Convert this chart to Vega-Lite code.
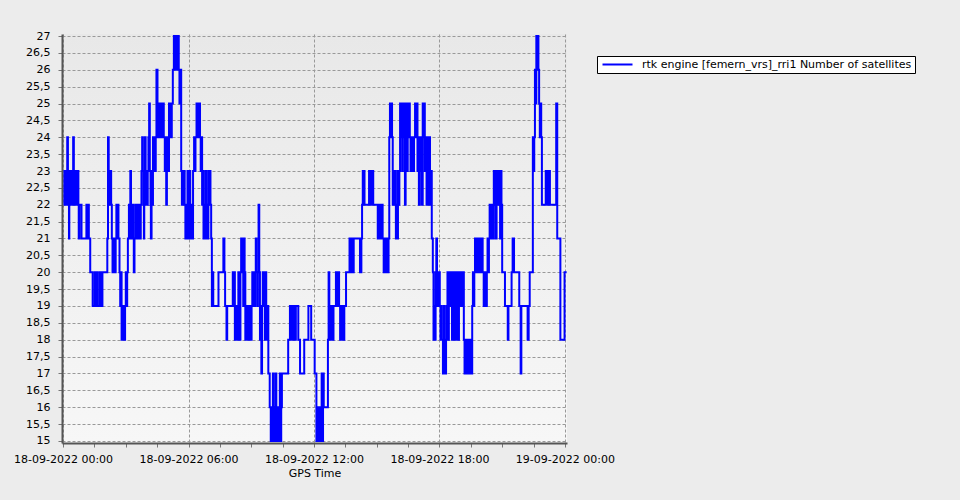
{
"$schema": "https://vega.github.io/schema/vega-lite/v6.json",
"autosize": {"type": "none"},
"padding": {"left": 62, "top": 34, "right": 393, "bottom": 57},
"width": 505,
"height": 409,
"background": "#ececec",
"config": {
  "font": "DejaVu Sans",
  "view": {"stroke": null, "fill": {"gradient": "linear", "x1": 0, "y1": 0, "x2": 0, "y2": 1, "stops": [{"offset": 0, "color": "#e8e8e8"}, {"offset": 1, "color": "#f7f7f7"}]}}
},
"data": {"values": [
{"t":"2022-09-18T00:02","n":22},{"t":"2022-09-18T00:04","n":23},{"t":"2022-09-18T00:06","n":22},{"t":"2022-09-18T00:08","n":23},{"t":"2022-09-18T00:10","n":22},{"t":"2022-09-18T00:11","n":23},{"t":"2022-09-18T00:12","n":24},{"t":"2022-09-18T00:14","n":23},{"t":"2022-09-18T00:15","n":22},{"t":"2022-09-18T00:17","n":21},{"t":"2022-09-18T00:18","n":22},{"t":"2022-09-18T00:20","n":23},{"t":"2022-09-18T00:22","n":22},{"t":"2022-09-18T00:24","n":23},{"t":"2022-09-18T00:26","n":22},{"t":"2022-09-18T00:28","n":23},{"t":"2022-09-18T00:29","n":24},{"t":"2022-09-18T00:31","n":23},{"t":"2022-09-18T00:33","n":22},{"t":"2022-09-18T00:34","n":23},{"t":"2022-09-18T00:38","n":22},{"t":"2022-09-18T00:39","n":23},{"t":"2022-09-18T00:44","n":22},{"t":"2022-09-18T00:45","n":21},{"t":"2022-09-18T00:47","n":22},{"t":"2022-09-18T00:53","n":21},{"t":"2022-09-18T01:07","n":22},{"t":"2022-09-18T01:10","n":21},{"t":"2022-09-18T01:12","n":22},{"t":"2022-09-18T01:14","n":21},{"t":"2022-09-18T01:18","n":20},{"t":"2022-09-18T01:25","n":19},{"t":"2022-09-18T01:31","n":20},{"t":"2022-09-18T01:33","n":19},{"t":"2022-09-18T01:38","n":20},{"t":"2022-09-18T01:40","n":19},{"t":"2022-09-18T01:46","n":20},{"t":"2022-09-18T01:48","n":19},{"t":"2022-09-18T01:53","n":20},{"t":"2022-09-18T02:07","n":21},{"t":"2022-09-18T02:09","n":24},{"t":"2022-09-18T02:11","n":23},{"t":"2022-09-18T02:13","n":22},{"t":"2022-09-18T02:16","n":23},{"t":"2022-09-18T02:18","n":22},{"t":"2022-09-18T02:20","n":21},{"t":"2022-09-18T02:22","n":20},{"t":"2022-09-18T02:25","n":21},{"t":"2022-09-18T02:28","n":20},{"t":"2022-09-18T02:31","n":21},{"t":"2022-09-18T02:33","n":22},{"t":"2022-09-18T02:35","n":21},{"t":"2022-09-18T02:37","n":22},{"t":"2022-09-18T02:39","n":21},{"t":"2022-09-18T02:42","n":20},{"t":"2022-09-18T02:44","n":19},{"t":"2022-09-18T02:46","n":20},{"t":"2022-09-18T02:48","n":18},{"t":"2022-09-18T02:50","n":19},{"t":"2022-09-18T02:52","n":18},{"t":"2022-09-18T02:54","n":19},{"t":"2022-09-18T02:56","n":18},{"t":"2022-09-18T02:58","n":19},{"t":"2022-09-18T03:00","n":20},{"t":"2022-09-18T03:02","n":19},{"t":"2022-09-18T03:04","n":20},{"t":"2022-09-18T03:06","n":21},{"t":"2022-09-18T03:09","n":22},{"t":"2022-09-18T03:11","n":21},{"t":"2022-09-18T03:13","n":23},{"t":"2022-09-18T03:15","n":22},{"t":"2022-09-18T03:17","n":21},{"t":"2022-09-18T03:19","n":22},{"t":"2022-09-18T03:21","n":21},{"t":"2022-09-18T03:23","n":20},{"t":"2022-09-18T03:25","n":21},{"t":"2022-09-18T03:27","n":22},{"t":"2022-09-18T03:29","n":21},{"t":"2022-09-18T03:31","n":22},{"t":"2022-09-18T03:33","n":21},{"t":"2022-09-18T03:35","n":22},{"t":"2022-09-18T03:37","n":21},{"t":"2022-09-18T03:39","n":22},{"t":"2022-09-18T03:41","n":21},{"t":"2022-09-18T03:43","n":22},{"t":"2022-09-18T03:45","n":23},{"t":"2022-09-18T03:47","n":24},{"t":"2022-09-18T03:49","n":23},{"t":"2022-09-18T03:51","n":22},{"t":"2022-09-18T03:52","n":21},{"t":"2022-09-18T03:53","n":23},{"t":"2022-09-18T03:55","n":24},{"t":"2022-09-18T03:57","n":22},{"t":"2022-09-18T03:59","n":23},{"t":"2022-09-18T04:01","n":22},{"t":"2022-09-18T04:03","n":23},{"t":"2022-09-18T04:05","n":24},{"t":"2022-09-18T04:07","n":25},{"t":"2022-09-18T04:09","n":23},{"t":"2022-09-18T04:11","n":22},{"t":"2022-09-18T04:12","n":21},{"t":"2022-09-18T04:14","n":23},{"t":"2022-09-18T04:16","n":22},{"t":"2022-09-18T04:18","n":24},{"t":"2022-09-18T04:20","n":23},{"t":"2022-09-18T04:22","n":24},{"t":"2022-09-18T04:24","n":23},{"t":"2022-09-18T04:26","n":24},{"t":"2022-09-18T04:28","n":26},{"t":"2022-09-18T04:31","n":25},{"t":"2022-09-18T04:33","n":24},{"t":"2022-09-18T04:35","n":25},{"t":"2022-09-18T04:37","n":24},{"t":"2022-09-18T04:39","n":25},{"t":"2022-09-18T04:41","n":24},{"t":"2022-09-18T04:43","n":25},{"t":"2022-09-18T04:45","n":24},{"t":"2022-09-18T04:47","n":25},{"t":"2022-09-18T04:49","n":24},{"t":"2022-09-18T04:52","n":23},{"t":"2022-09-18T04:54","n":24},{"t":"2022-09-18T04:56","n":22},{"t":"2022-09-18T04:58","n":23},{"t":"2022-09-18T05:00","n":24},{"t":"2022-09-18T05:02","n":23},{"t":"2022-09-18T05:04","n":25},{"t":"2022-09-18T05:06","n":24},{"t":"2022-09-18T05:08","n":25},{"t":"2022-09-18T05:10","n":24},{"t":"2022-09-18T05:12","n":25},{"t":"2022-09-18T05:15","n":26},{"t":"2022-09-18T05:18","n":27},{"t":"2022-09-18T05:20","n":26},{"t":"2022-09-18T05:22","n":27},{"t":"2022-09-18T05:24","n":26},{"t":"2022-09-18T05:26","n":27},{"t":"2022-09-18T05:28","n":26},{"t":"2022-09-18T05:30","n":27},{"t":"2022-09-18T05:32","n":26},{"t":"2022-09-18T05:34","n":25},{"t":"2022-09-18T05:36","n":26},{"t":"2022-09-18T05:39","n":23},{"t":"2022-09-18T05:41","n":22},{"t":"2022-09-18T05:43","n":23},{"t":"2022-09-18T05:45","n":22},{"t":"2022-09-18T05:47","n":23},{"t":"2022-09-18T05:49","n":22},{"t":"2022-09-18T05:51","n":21},{"t":"2022-09-18T05:53","n":22},{"t":"2022-09-18T05:55","n":21},{"t":"2022-09-18T05:57","n":23},{"t":"2022-09-18T05:59","n":22},{"t":"2022-09-18T06:01","n":21},{"t":"2022-09-18T06:03","n":23},{"t":"2022-09-18T06:05","n":22},{"t":"2022-09-18T06:07","n":21},{"t":"2022-09-18T06:09","n":22},{"t":"2022-09-18T06:11","n":21},{"t":"2022-09-18T06:13","n":23},{"t":"2022-09-18T06:16","n":24},{"t":"2022-09-18T06:18","n":23},{"t":"2022-09-18T06:20","n":24},{"t":"2022-09-18T06:23","n":25},{"t":"2022-09-18T06:25","n":24},{"t":"2022-09-18T06:27","n":25},{"t":"2022-09-18T06:29","n":24},{"t":"2022-09-18T06:31","n":25},{"t":"2022-09-18T06:33","n":24},{"t":"2022-09-18T06:35","n":23},{"t":"2022-09-18T06:37","n":24},{"t":"2022-09-18T06:39","n":22},{"t":"2022-09-18T06:41","n":23},{"t":"2022-09-18T06:43","n":21},{"t":"2022-09-18T06:45","n":22},{"t":"2022-09-18T06:47","n":21},{"t":"2022-09-18T06:49","n":23},{"t":"2022-09-18T06:51","n":21},{"t":"2022-09-18T06:53","n":22},{"t":"2022-09-18T06:55","n":21},{"t":"2022-09-18T06:57","n":23},{"t":"2022-09-18T06:59","n":22},{"t":"2022-09-18T07:01","n":23},{"t":"2022-09-18T07:03","n":22},{"t":"2022-09-18T07:05","n":21},{"t":"2022-09-18T07:07","n":19},{"t":"2022-09-18T07:09","n":20},{"t":"2022-09-18T07:11","n":19},{"t":"2022-09-18T07:26","n":20},{"t":"2022-09-18T07:40","n":21},{"t":"2022-09-18T07:43","n":20},{"t":"2022-09-18T07:45","n":19},{"t":"2022-09-18T07:49","n":18},{"t":"2022-09-18T07:51","n":19},{"t":"2022-09-18T08:07","n":20},{"t":"2022-09-18T08:09","n":19},{"t":"2022-09-18T08:11","n":20},{"t":"2022-09-18T08:13","n":18},{"t":"2022-09-18T08:15","n":19},{"t":"2022-09-18T08:17","n":18},{"t":"2022-09-18T08:19","n":19},{"t":"2022-09-18T08:21","n":18},{"t":"2022-09-18T08:23","n":20},{"t":"2022-09-18T08:25","n":19},{"t":"2022-09-18T08:27","n":18},{"t":"2022-09-18T08:29","n":20},{"t":"2022-09-18T08:31","n":21},{"t":"2022-09-18T08:33","n":20},{"t":"2022-09-18T08:35","n":21},{"t":"2022-09-18T08:37","n":19},{"t":"2022-09-18T08:39","n":21},{"t":"2022-09-18T08:41","n":20},{"t":"2022-09-18T08:43","n":18},{"t":"2022-09-18T08:45","n":19},{"t":"2022-09-18T08:47","n":18},{"t":"2022-09-18T08:49","n":19},{"t":"2022-09-18T08:51","n":18},{"t":"2022-09-18T08:53","n":19},{"t":"2022-09-18T08:55","n":18},{"t":"2022-09-18T08:57","n":19},{"t":"2022-09-18T08:59","n":18},{"t":"2022-09-18T09:01","n":19},{"t":"2022-09-18T09:03","n":20},{"t":"2022-09-18T09:05","n":19},{"t":"2022-09-18T09:07","n":20},{"t":"2022-09-18T09:09","n":19},{"t":"2022-09-18T09:11","n":20},{"t":"2022-09-18T09:13","n":21},{"t":"2022-09-18T09:15","n":20},{"t":"2022-09-18T09:17","n":19},{"t":"2022-09-18T09:19","n":20},{"t":"2022-09-18T09:21","n":22},{"t":"2022-09-18T09:23","n":20},{"t":"2022-09-18T09:25","n":18},{"t":"2022-09-18T09:27","n":19},{"t":"2022-09-18T09:29","n":17},{"t":"2022-09-18T09:31","n":19},{"t":"2022-09-18T09:33","n":20},{"t":"2022-09-18T09:35","n":19},{"t":"2022-09-18T09:37","n":20},{"t":"2022-09-18T09:39","n":18},{"t":"2022-09-18T09:41","n":20},{"t":"2022-09-18T09:43","n":19},{"t":"2022-09-18T09:45","n":18},{"t":"2022-09-18T09:47","n":19},{"t":"2022-09-18T09:49","n":17},{"t":"2022-09-18T09:53","n":16},{"t":"2022-09-18T09:56","n":15},{"t":"2022-09-18T09:58","n":16},{"t":"2022-09-18T10:00","n":15},{"t":"2022-09-18T10:02","n":17},{"t":"2022-09-18T10:04","n":15},{"t":"2022-09-18T10:06","n":16},{"t":"2022-09-18T10:08","n":15},{"t":"2022-09-18T10:10","n":17},{"t":"2022-09-18T10:12","n":15},{"t":"2022-09-18T10:14","n":16},{"t":"2022-09-18T10:16","n":15},{"t":"2022-09-18T10:18","n":16},{"t":"2022-09-18T10:20","n":15},{"t":"2022-09-18T10:22","n":17},{"t":"2022-09-18T10:24","n":15},{"t":"2022-09-18T10:26","n":16},{"t":"2022-09-18T10:28","n":17},{"t":"2022-09-18T10:46","n":18},{"t":"2022-09-18T10:51","n":19},{"t":"2022-09-18T10:54","n":18},{"t":"2022-09-18T10:56","n":19},{"t":"2022-09-18T10:59","n":18},{"t":"2022-09-18T11:01","n":19},{"t":"2022-09-18T11:05","n":18},{"t":"2022-09-18T11:08","n":19},{"t":"2022-09-18T11:15","n":18},{"t":"2022-09-18T11:20","n":17},{"t":"2022-09-18T11:32","n":18},{"t":"2022-09-18T11:44","n":19},{"t":"2022-09-18T11:52","n":18},{"t":"2022-09-18T12:02","n":17},{"t":"2022-09-18T12:07","n":15},{"t":"2022-09-18T12:09","n":16},{"t":"2022-09-18T12:11","n":15},{"t":"2022-09-18T12:13","n":16},{"t":"2022-09-18T12:15","n":15},{"t":"2022-09-18T12:17","n":16},{"t":"2022-09-18T12:19","n":15},{"t":"2022-09-18T12:22","n":17},{"t":"2022-09-18T12:24","n":15},{"t":"2022-09-18T12:26","n":17},{"t":"2022-09-18T12:28","n":16},{"t":"2022-09-18T12:40","n":18},{"t":"2022-09-18T12:42","n":20},{"t":"2022-09-18T12:44","n":18},{"t":"2022-09-18T12:46","n":19},{"t":"2022-09-18T12:48","n":18},{"t":"2022-09-18T12:50","n":19},{"t":"2022-09-18T12:53","n":18},{"t":"2022-09-18T12:56","n":19},{"t":"2022-09-18T13:03","n":20},{"t":"2022-09-18T13:06","n":19},{"t":"2022-09-18T13:09","n":20},{"t":"2022-09-18T13:12","n":19},{"t":"2022-09-18T13:15","n":18},{"t":"2022-09-18T13:17","n":19},{"t":"2022-09-18T13:19","n":18},{"t":"2022-09-18T13:21","n":19},{"t":"2022-09-18T13:23","n":18},{"t":"2022-09-18T13:27","n":19},{"t":"2022-09-18T13:32","n":20},{"t":"2022-09-18T13:42","n":21},{"t":"2022-09-18T13:44","n":20},{"t":"2022-09-18T13:46","n":21},{"t":"2022-09-18T13:48","n":20},{"t":"2022-09-18T13:50","n":21},{"t":"2022-09-18T13:52","n":20},{"t":"2022-09-18T13:54","n":21},{"t":"2022-09-18T14:12","n":20},{"t":"2022-09-18T14:16","n":21},{"t":"2022-09-18T14:18","n":22},{"t":"2022-09-18T14:20","n":23},{"t":"2022-09-18T14:25","n":22},{"t":"2022-09-18T14:38","n":23},{"t":"2022-09-18T14:41","n":22},{"t":"2022-09-18T14:43","n":23},{"t":"2022-09-18T14:46","n":22},{"t":"2022-09-18T14:48","n":23},{"t":"2022-09-18T14:50","n":22},{"t":"2022-09-18T15:03","n":21},{"t":"2022-09-18T15:06","n":22},{"t":"2022-09-18T15:08","n":21},{"t":"2022-09-18T15:10","n":22},{"t":"2022-09-18T15:12","n":21},{"t":"2022-09-18T15:14","n":22},{"t":"2022-09-18T15:17","n":21},{"t":"2022-09-18T15:20","n":20},{"t":"2022-09-18T15:23","n":21},{"t":"2022-09-18T15:26","n":20},{"t":"2022-09-18T15:30","n":21},{"t":"2022-09-18T15:32","n":20},{"t":"2022-09-18T15:34","n":21},{"t":"2022-09-18T15:36","n":24},{"t":"2022-09-18T15:38","n":25},{"t":"2022-09-18T15:40","n":24},{"t":"2022-09-18T15:42","n":25},{"t":"2022-09-18T15:44","n":24},{"t":"2022-09-18T15:46","n":22},{"t":"2022-09-18T15:48","n":23},{"t":"2022-09-18T15:50","n":22},{"t":"2022-09-18T15:52","n":23},{"t":"2022-09-18T15:55","n":21},{"t":"2022-09-18T15:57","n":22},{"t":"2022-09-18T15:59","n":21},{"t":"2022-09-18T16:01","n":23},{"t":"2022-09-18T16:03","n":22},{"t":"2022-09-18T16:05","n":23},{"t":"2022-09-18T16:07","n":25},{"t":"2022-09-18T16:09","n":24},{"t":"2022-09-18T16:11","n":25},{"t":"2022-09-18T16:13","n":23},{"t":"2022-09-18T16:15","n":25},{"t":"2022-09-18T16:17","n":24},{"t":"2022-09-18T16:19","n":25},{"t":"2022-09-18T16:21","n":22},{"t":"2022-09-18T16:23","n":24},{"t":"2022-09-18T16:25","n":25},{"t":"2022-09-18T16:27","n":23},{"t":"2022-09-18T16:29","n":25},{"t":"2022-09-18T16:31","n":24},{"t":"2022-09-18T16:33","n":25},{"t":"2022-09-18T16:35","n":24},{"t":"2022-09-18T16:37","n":23},{"t":"2022-09-18T16:39","n":24},{"t":"2022-09-18T16:41","n":23},{"t":"2022-09-18T16:43","n":24},{"t":"2022-09-18T16:45","n":23},{"t":"2022-09-18T16:47","n":24},{"t":"2022-09-18T16:50","n":25},{"t":"2022-09-18T16:53","n":24},{"t":"2022-09-18T16:55","n":25},{"t":"2022-09-18T16:57","n":23},{"t":"2022-09-18T16:59","n":24},{"t":"2022-09-18T17:01","n":22},{"t":"2022-09-18T17:03","n":24},{"t":"2022-09-18T17:05","n":23},{"t":"2022-09-18T17:07","n":24},{"t":"2022-09-18T17:09","n":22},{"t":"2022-09-18T17:12","n":25},{"t":"2022-09-18T17:14","n":24},{"t":"2022-09-18T17:16","n":25},{"t":"2022-09-18T17:18","n":23},{"t":"2022-09-18T17:21","n":24},{"t":"2022-09-18T17:23","n":22},{"t":"2022-09-18T17:25","n":24},{"t":"2022-09-18T17:27","n":23},{"t":"2022-09-18T17:29","n":22},{"t":"2022-09-18T17:31","n":24},{"t":"2022-09-18T17:33","n":22},{"t":"2022-09-18T17:35","n":23},{"t":"2022-09-18T17:38","n":21},{"t":"2022-09-18T17:41","n":20},{"t":"2022-09-18T17:43","n":18},{"t":"2022-09-18T17:45","n":19},{"t":"2022-09-18T17:47","n":18},{"t":"2022-09-18T17:49","n":20},{"t":"2022-09-18T17:51","n":21},{"t":"2022-09-18T17:53","n":19},{"t":"2022-09-18T17:55","n":20},{"t":"2022-09-18T17:57","n":19},{"t":"2022-09-18T17:59","n":20},{"t":"2022-09-18T18:01","n":19},{"t":"2022-09-18T18:03","n":18},{"t":"2022-09-18T18:05","n":19},{"t":"2022-09-18T18:07","n":18},{"t":"2022-09-18T18:10","n":17},{"t":"2022-09-18T18:13","n":19},{"t":"2022-09-18T18:15","n":18},{"t":"2022-09-18T18:17","n":17},{"t":"2022-09-18T18:19","n":18},{"t":"2022-09-18T18:21","n":19},{"t":"2022-09-18T18:23","n":20},{"t":"2022-09-18T18:25","n":18},{"t":"2022-09-18T18:27","n":20},{"t":"2022-09-18T18:29","n":19},{"t":"2022-09-18T18:31","n":20},{"t":"2022-09-18T18:33","n":19},{"t":"2022-09-18T18:36","n":18},{"t":"2022-09-18T18:38","n":20},{"t":"2022-09-18T18:40","n":19},{"t":"2022-09-18T18:42","n":18},{"t":"2022-09-18T18:44","n":20},{"t":"2022-09-18T18:46","n":19},{"t":"2022-09-18T18:48","n":18},{"t":"2022-09-18T18:50","n":20},{"t":"2022-09-18T18:52","n":19},{"t":"2022-09-18T18:54","n":18},{"t":"2022-09-18T18:56","n":20},{"t":"2022-09-18T18:58","n":19},{"t":"2022-09-18T19:00","n":20},{"t":"2022-09-18T19:02","n":19},{"t":"2022-09-18T19:04","n":20},{"t":"2022-09-18T19:06","n":19},{"t":"2022-09-18T19:08","n":20},{"t":"2022-09-18T19:10","n":18},{"t":"2022-09-18T19:12","n":17},{"t":"2022-09-18T19:14","n":18},{"t":"2022-09-18T19:16","n":17},{"t":"2022-09-18T19:18","n":18},{"t":"2022-09-18T19:20","n":17},{"t":"2022-09-18T19:22","n":18},{"t":"2022-09-18T19:24","n":17},{"t":"2022-09-18T19:26","n":18},{"t":"2022-09-18T19:28","n":17},{"t":"2022-09-18T19:30","n":18},{"t":"2022-09-18T19:32","n":17},{"t":"2022-09-18T19:34","n":19},{"t":"2022-09-18T19:36","n":20},{"t":"2022-09-18T19:38","n":19},{"t":"2022-09-18T19:40","n":20},{"t":"2022-09-18T19:42","n":21},{"t":"2022-09-18T19:44","n":20},{"t":"2022-09-18T19:46","n":21},{"t":"2022-09-18T19:48","n":20},{"t":"2022-09-18T19:50","n":21},{"t":"2022-09-18T19:52","n":20},{"t":"2022-09-18T19:54","n":21},{"t":"2022-09-18T19:56","n":20},{"t":"2022-09-18T19:58","n":21},{"t":"2022-09-18T20:00","n":20},{"t":"2022-09-18T20:02","n":21},{"t":"2022-09-18T20:04","n":20},{"t":"2022-09-18T20:07","n":19},{"t":"2022-09-18T20:10","n":20},{"t":"2022-09-18T20:13","n":19},{"t":"2022-09-18T20:16","n":20},{"t":"2022-09-18T20:18","n":21},{"t":"2022-09-18T20:20","n":20},{"t":"2022-09-18T20:22","n":21},{"t":"2022-09-18T20:24","n":22},{"t":"2022-09-18T20:26","n":21},{"t":"2022-09-18T20:28","n":22},{"t":"2022-09-18T20:30","n":21},{"t":"2022-09-18T20:32","n":22},{"t":"2022-09-18T20:34","n":21},{"t":"2022-09-18T20:36","n":23},{"t":"2022-09-18T20:38","n":22},{"t":"2022-09-18T20:40","n":23},{"t":"2022-09-18T20:42","n":21},{"t":"2022-09-18T20:44","n":23},{"t":"2022-09-18T20:46","n":22},{"t":"2022-09-18T20:48","n":23},{"t":"2022-09-18T20:50","n":22},{"t":"2022-09-18T20:52","n":23},{"t":"2022-09-18T20:54","n":21},{"t":"2022-09-18T20:56","n":23},{"t":"2022-09-18T20:58","n":22},{"t":"2022-09-18T21:00","n":20},{"t":"2022-09-18T21:08","n":19},{"t":"2022-09-18T21:16","n":18},{"t":"2022-09-18T21:18","n":19},{"t":"2022-09-18T21:27","n":20},{"t":"2022-09-18T21:30","n":21},{"t":"2022-09-18T21:34","n":20},{"t":"2022-09-18T21:49","n":19},{"t":"2022-09-18T21:53","n":17},{"t":"2022-09-18T21:55","n":19},{"t":"2022-09-18T22:13","n":18},{"t":"2022-09-18T22:16","n":19},{"t":"2022-09-18T22:19","n":20},{"t":"2022-09-18T22:28","n":24},{"t":"2022-09-18T22:30","n":23},{"t":"2022-09-18T22:32","n":24},{"t":"2022-09-18T22:34","n":26},{"t":"2022-09-18T22:36","n":25},{"t":"2022-09-18T22:38","n":27},{"t":"2022-09-18T22:40","n":26},{"t":"2022-09-18T22:42","n":27},{"t":"2022-09-18T22:44","n":26},{"t":"2022-09-18T22:46","n":25},{"t":"2022-09-18T22:48","n":24},{"t":"2022-09-18T22:50","n":25},{"t":"2022-09-18T22:52","n":24},{"t":"2022-09-18T22:54","n":22},{"t":"2022-09-18T23:05","n":23},{"t":"2022-09-18T23:10","n":22},{"t":"2022-09-18T23:12","n":23},{"t":"2022-09-18T23:17","n":22},{"t":"2022-09-18T23:35","n":25},{"t":"2022-09-18T23:38","n":21},{"t":"2022-09-18T23:47","n":18},{"t":"2022-09-18T23:59","n":20},{"t":"2022-09-19T00:05","n":20}
]},
"mark": {"type": "line", "interpolate": "step-after", "strokeWidth": 2, "clip": true},
"encoding": {
  "x": {
    "field": "t", "type": "temporal",
    "scale": {"domain": [{"year": 2022, "month": 9, "date": 17, "hours": 23, "minutes": 57}, {"year": 2022, "month": 9, "date": 19, "hours": 0, "minutes": 6}]},
    "axis": {
      "title": "GPS Time", "titleFontWeight": "normal", "titleFontSize": 11, "titleColor": "#000000", "titlePadding": 3,
      "values": [
        {"year": 2022, "month": 9, "date": 18, "hours": 0, "minutes": 0},
        {"year": 2022, "month": 9, "date": 18, "hours": 1, "minutes": 30},
        {"year": 2022, "month": 9, "date": 18, "hours": 3, "minutes": 0},
        {"year": 2022, "month": 9, "date": 18, "hours": 4, "minutes": 30},
        {"year": 2022, "month": 9, "date": 18, "hours": 6, "minutes": 0},
        {"year": 2022, "month": 9, "date": 18, "hours": 7, "minutes": 30},
        {"year": 2022, "month": 9, "date": 18, "hours": 9, "minutes": 0},
        {"year": 2022, "month": 9, "date": 18, "hours": 10, "minutes": 30},
        {"year": 2022, "month": 9, "date": 18, "hours": 12, "minutes": 0},
        {"year": 2022, "month": 9, "date": 18, "hours": 13, "minutes": 30},
        {"year": 2022, "month": 9, "date": 18, "hours": 15, "minutes": 0},
        {"year": 2022, "month": 9, "date": 18, "hours": 16, "minutes": 30},
        {"year": 2022, "month": 9, "date": 18, "hours": 18, "minutes": 0},
        {"year": 2022, "month": 9, "date": 18, "hours": 19, "minutes": 30},
        {"year": 2022, "month": 9, "date": 18, "hours": 21, "minutes": 0},
        {"year": 2022, "month": 9, "date": 18, "hours": 22, "minutes": 30},
        {"year": 2022, "month": 9, "date": 19, "hours": 0, "minutes": 0}
      ],
      "labelExpr": "(hours(datum.value) % 6 == 0 && minutes(datum.value) == 0) ? timeFormat(datum.value, '%d-%m-%Y %H:%M') : ''",
      "labelFontSize": 11, "labelColor": "#000000", "labelPadding": 6, "labelOverlap": false, "labelFlush": false,
      "tickSize": 4, "tickColor": "#777777",
      "grid": true, "gridColor": "#999999", "gridDash": [3, 2],
      "gridOpacity": {"condition": {"test": "minutes(datum.value) != 0 || hours(datum.value) % 6 != 0", "value": 0}, "value": 1},
      "domainColor": "#555555", "domainWidth": 2
    }
  },
  "y": {
    "field": "n", "type": "quantitative",
    "scale": {"domain": [14.94, 27.06], "zero": false, "nice": false},
    "axis": {
      "title": null,
      "values": [15, 15.5, 16, 16.5, 17, 17.5, 18, 18.5, 19, 19.5, 20, 20.5, 21, 21.5, 22, 22.5, 23, 23.5, 24, 24.5, 25, 25.5, 26, 26.5, 27],
      "labelExpr": "replace(toString(datum.value), '.', ',')",
      "labelFontSize": 11, "labelColor": "#000000", "labelPadding": 8, "labelOverlap": false,
      "tickSize": 4, "tickColor": "#777777",
      "grid": true, "gridColor": "#999999", "gridDash": [3, 2],
      "domainColor": "#555555", "domainWidth": 2
    }
  },
  "color": {
    "datum": "rtk engine [femern_vrs]_rri1 Number of satellites",
    "scale": {"range": ["#0000ff"]},
    "legend": {
      "title": null, "orient": "none", "legendX": 535, "legendY": 22,
      "fillColor": "#ffffff", "strokeColor": "#000000", "padding": 3, "cornerRadius": 0,
      "symbolType": "M-6,0H6", "symbolSize": 25, "symbolStrokeWidth": 2, "symbolOffset": 12,
      "labelFontSize": 11, "labelColor": "#000000", "labelOffset": 19, "labelLimit": 400
    }
  }
}
}
